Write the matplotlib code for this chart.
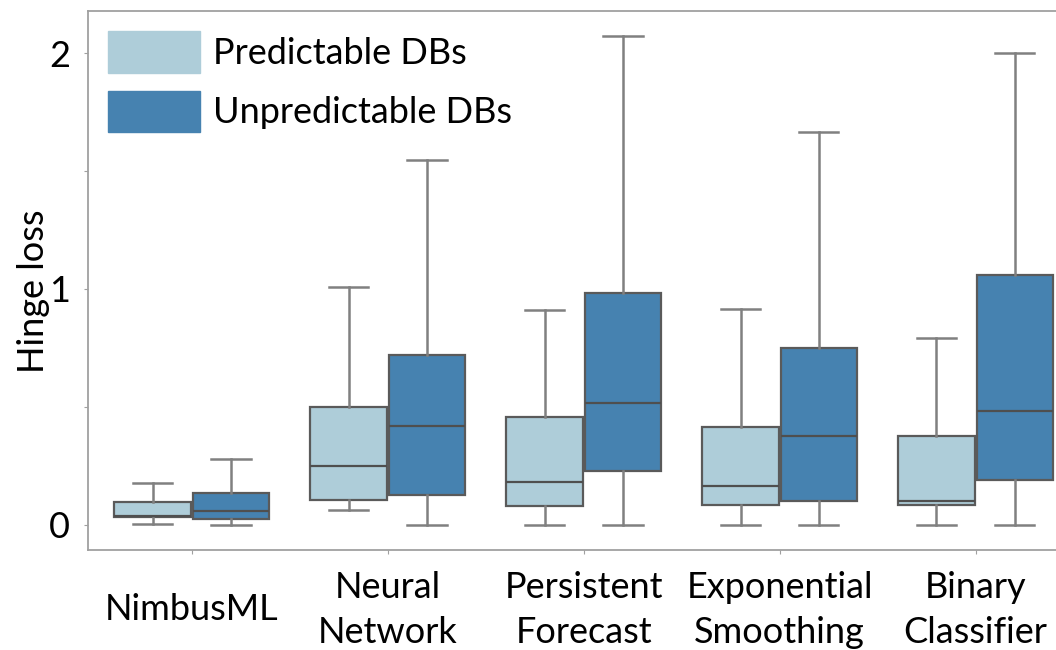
import matplotlib.pyplot as plt
from matplotlib.patches import Patch

plt.rcParams['font.family'] = ['Lato', 'DejaVu Sans']

methods = ["NimbusML", "Neural\nNetwork", "Persistent\nForecast",
           "Exponential\nSmoothing", "Binary\nClassifier"]
groups = ["Predictable DBs", "Unpredictable DBs"]
colors = ["#aecdd9", "#4682b0"]

# box stats (whisker low, q1, median, q3, whisker high)
pred_lo = [0.004, 0.062, 0.0, 0.0, 0.0]
pred_q1 = [0.033, 0.106, 0.080, 0.083, 0.083]
pred_med = [0.038, 0.251, 0.182, 0.166, 0.102]
pred_q3 = [0.097, 0.501, 0.459, 0.417, 0.375]
pred_hi = [0.178, 1.008, 0.911, 0.916, 0.791]

unpred_lo = [0.0, 0.0, 0.0, 0.0, 0.0]
unpred_q1 = [0.024, 0.127, 0.227, 0.102, 0.192]
unpred_med = [0.061, 0.421, 0.517, 0.376, 0.482]
unpred_q3 = [0.137, 0.722, 0.984, 0.749, 1.060]
unpred_hi = [0.280, 1.547, 2.073, 1.664, 2.000]

series = [
    (pred_lo, pred_q1, pred_med, pred_q3, pred_hi),
    (unpred_lo, unpred_q1, unpred_med, unpred_q3, unpred_hi),
]

fig = plt.figure(figsize=(10.56, 6.5), dpi=100)
ax = fig.add_axes([88 / 1056, 100 / 650, 968 / 1056, 539 / 650])

offsets = [-0.2, 0.2]
for k, (lo, q1, med, q3, hi) in enumerate(series):
    stats = []
    for i in range(len(methods)):
        stats.append({"whislo": lo[i], "q1": q1[i], "med": med[i],
                      "q3": q3[i], "whishi": hi[i], "fliers": []})
    pos = [i + offsets[k] for i in range(len(methods))]
    ax.bxp(stats, positions=pos, widths=0.39, patch_artist=True,
           showfliers=False, manage_ticks=False,
           boxprops=dict(facecolor=colors[k], edgecolor="#5a5a5a", linewidth=1.6),
           medianprops=dict(color="#4f4f4f", linewidth=1.6),
           whiskerprops=dict(color="#808080", linewidth=1.8),
           capprops=dict(color="#808080", linewidth=1.8),
           capwidths=0.2)

fs = 26
ax.set_xlim(-0.53, 4.41)
ax.set_ylim(-0.106, 2.178)
ax.set_xticks(range(len(methods)))
ax.set_xticklabels(methods, fontsize=fs, va="center", linespacing=1.45)
ax.set_yticks([0, 0.5, 1, 1.5, 2])
ax.set_yticklabels(["0", "", "1", "", "2"], fontsize=fs)
ax.tick_params(axis="x", length=3, color="#a0a0a0", pad=40)
ax.tick_params(axis="y", length=3, color="#a0a0a0", pad=10)
ax.set_ylabel("Hinge loss", fontsize=fs)
ax.yaxis.set_label_coords(-0.039, 0.48)

for side in ["left", "top", "bottom"]:
    ax.spines[side].set_color("#a0a0a0")
    ax.spines[side].set_linewidth(1.3)
ax.spines["right"].set_visible(False)

handles = [Patch(facecolor=c, edgecolor=c) for c in colors]
ax.legend(handles, groups, loc="upper left", frameon=False, fontsize=fs,
          handlelength=2.55, handleheight=1.4, labelspacing=0.5,
          handletextpad=0.35, borderaxespad=0, borderpad=0.55)

fig.savefig("out.png", dpi=100)
